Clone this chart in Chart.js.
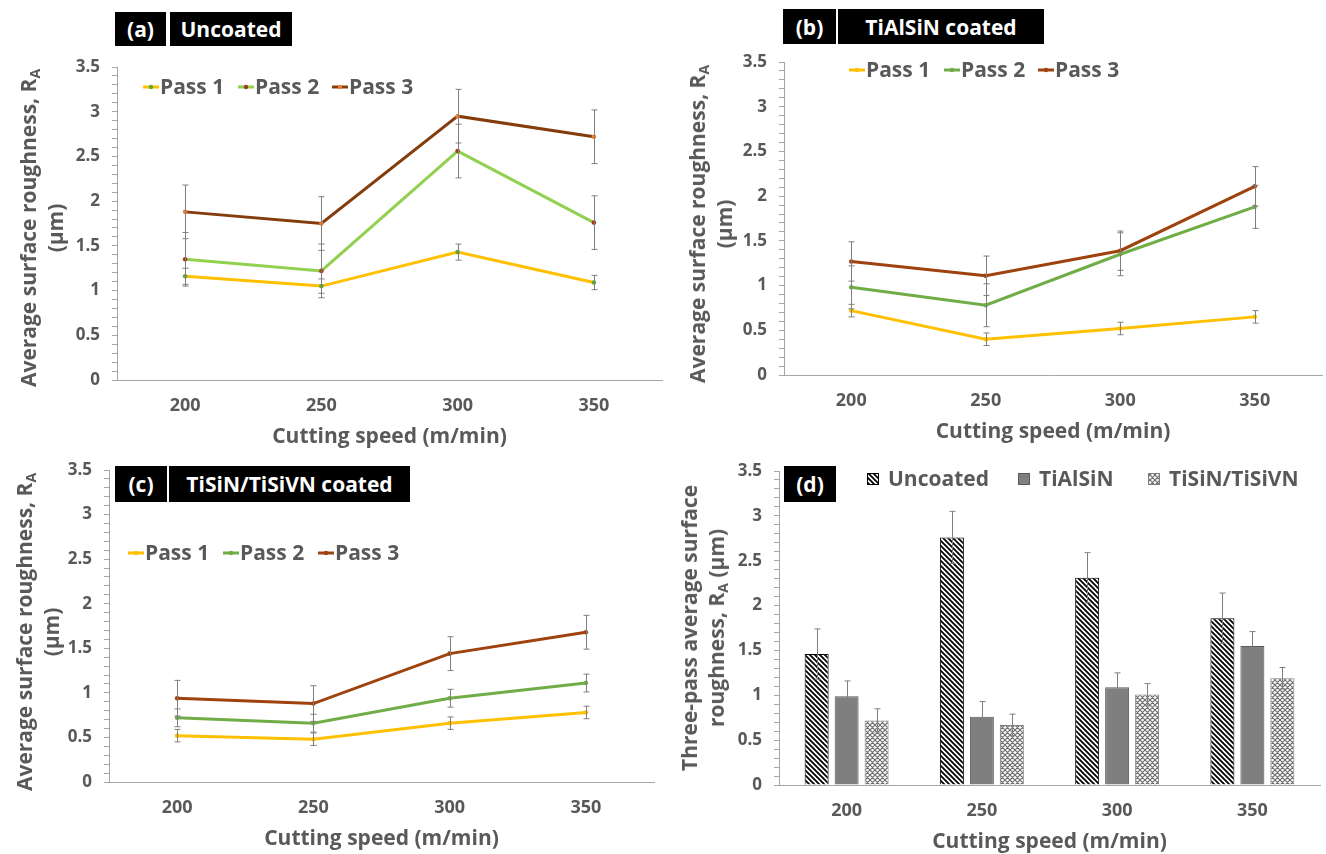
<!DOCTYPE html>
<html>
<head>
<meta charset="utf-8">
<script src="https://cdn.jsdelivr.net/npm/chart.js@4.4.0/dist/chart.umd.min.js"></script>
<style>
  body { margin: 0; background: #fff; width: 1326px; height: 854px; overflow: hidden; position: relative; font-family: 'Open Sans', sans-serif; }
  canvas { position: absolute; }
  .tag { position: absolute; background: #000; color: #fff; font-weight: bold; font-size: 21px; display: flex; align-items: center; justify-content: center; }
  .ytitle { position: absolute; color: #595959; font-weight: bold; font-size: 21px; line-height: 27px; text-align: center; white-space: nowrap; transform: translate(-50%, -50%) rotate(-90deg); }
  .ytitle sub { font-size: 14px; vertical-align: -4px; line-height: 0; }
</style>
</head>
<body>
<canvas id="chartA" width="670" height="450" style="left:0;top:0"></canvas>
<canvas id="chartB" width="666" height="445" style="left:660px;top:0"></canvas>
<canvas id="chartC" width="662" height="422" style="left:0;top:430px"></canvas>
<canvas id="chartD" width="666" height="425" style="left:660px;top:430px"></canvas>

<div class="tag" style="left:115px;top:12px;width:51px;height:34px">(a)</div>
<div class="tag" style="left:170px;top:12px;width:122px;height:34px">Uncoated</div>
<div class="tag" style="left:783px;top:9px;width:53px;height:35px">(b)</div>
<div class="tag" style="left:838px;top:9px;width:206px;height:35px">TiAlSiN coated</div>
<div class="tag" style="left:115px;top:466px;width:52px;height:36px">(c)</div>
<div class="tag" style="left:169px;top:466px;width:241px;height:36px">TiSiN/TiSiVN coated</div>
<div class="tag" style="left:784px;top:466px;width:52px;height:36px">(d)</div>

<div class="ytitle" style="left:42px;top:228px">Average surface roughness, R<sub>A</sub><br>(µm)</div>
<div class="ytitle" style="left:711px;top:224px">Average surface roughness, R<sub>A</sub><br>(µm)</div>
<div class="ytitle" style="left:38px;top:632px">Average surface roughness, R<sub>A</sub><br>(µm)</div>
<div class="ytitle" style="left:703px;top:628px">Three-pass average surface<br>roughness, R<sub>A</sub> (µm)</div>

<script>
// categorie (velocità di taglio)
const speeds = ['200', '250', '300', '350'];
const passLabels = ['Pass 1', 'Pass 2', 'Pass 3'];
const coatingLabels = ['Uncoated', 'TiAlSiN', 'TiSiN/TiSiVN'];

// (a) uncoated
const uncoatedPass1 = [1.16, 1.05, 1.43, 1.09];
const uncoatedPass1Err = [0.09, 0.08, 0.09, 0.08];
const uncoatedPass2 = [1.35, 1.22, 2.56, 1.76];
const uncoatedPass2Err = [0.30, 0.30, 0.30, 0.30];
const uncoatedPass3 = [1.88, 1.75, 2.95, 2.72];
const uncoatedPass3Err = [0.30, 0.30, 0.30, 0.30];

// (b) TiAlSiN
const tialsinPass1 = [0.72, 0.40, 0.52, 0.65];
const tialsinPass1Err = [0.07, 0.07, 0.07, 0.07];
const tialsinPass2 = [0.98, 0.78, 1.35, 1.88];
const tialsinPass2Err = [0.24, 0.24, 0.24, 0.24];
const tialsinPass3 = [1.27, 1.11, 1.39, 2.11];
const tialsinPass3Err = [0.22, 0.22, 0.22, 0.22];

// (c) TiSiN/TiSiVN
const tisinPass1 = [0.52, 0.48, 0.66, 0.78];
const tisinPass1Err = [0.07, 0.07, 0.07, 0.07];
const tisinPass2 = [0.72, 0.66, 0.94, 1.11];
const tisinPass2Err = [0.10, 0.10, 0.10, 0.10];
const tisinPass3 = [0.94, 0.88, 1.44, 1.68];
const tisinPass3Err = [0.20, 0.20, 0.19, 0.19];

// (d) media delle tre passate
const avgUncoated = [1.46, 2.76, 2.31, 1.86];
const avgUncoatedErr = [0.28, 0.29, 0.28, 0.28];
const avgTialsin = [0.99, 0.76, 1.09, 1.55];
const avgTialsinErr = [0.17, 0.17, 0.16, 0.16];
const avgTisin = [0.72, 0.67, 1.01, 1.19];
const avgTisinErr = [0.13, 0.12, 0.12, 0.12];

const GREY = '#595959';
const AXIS = '#a6a6a6';
Chart.defaults.font.family = "'Open Sans', sans-serif";
Chart.defaults.font.weight = 'bold';
Chart.defaults.color = GREY;

// barre d'errore
const errorBars = {
  id: 'errorBars',
  afterDatasetsDraw(chart) {
    const ctx = chart.ctx;
    const y = chart.scales.y;
    ctx.save();
    ctx.strokeStyle = '#7f7f7f';
    ctx.lineWidth = 1;
    chart.data.datasets.forEach((ds, i) => {
      if (!ds.errors) return;
      chart.getDatasetMeta(i).data.forEach((el, j) => {
        const x = Math.round(el.x) + 0.5;
        const top = y.getPixelForValue(ds.data[j] + ds.errors[j]);
        const bot = y.getPixelForValue(ds.data[j] - ds.errors[j]);
        ctx.beginPath();
        ctx.moveTo(x, top); ctx.lineTo(x, bot);
        ctx.moveTo(x - 3, top); ctx.lineTo(x + 3, top);
        ctx.moveTo(x - 3, bot); ctx.lineTo(x + 3, bot);
        ctx.stroke();
      });
    });
    ctx.restore();
  }
};

// legenda dentro l'area del grafico
const boxLegend = {
  id: 'boxLegend',
  afterDraw(chart, args, opts) {
    const ctx = chart.ctx;
    ctx.save();
    ctx.font = "bold 21px 'Open Sans'";
    ctx.textBaseline = 'middle';
    chart.data.datasets.forEach((ds, i) => {
      const x = opts.xs[i], y = opts.y;
      let tx;
      if (chart.config.type === 'bar') {
        ctx.fillStyle = ds.backgroundColor;
        ctx.fillRect(x, y - 6, 12, 12);
        ctx.strokeStyle = ds.borderColor;
        ctx.lineWidth = 1;
        ctx.strokeRect(x + 0.5, y - 5.5, 11, 11);
        tx = x + 21;
      } else {
        ctx.strokeStyle = ds.borderColor;
        ctx.lineWidth = 3;
        ctx.beginPath();
        ctx.moveTo(x, y); ctx.lineTo(x + 16, y);
        ctx.stroke();
        ctx.fillStyle = ds.pointBackgroundColor;
        ctx.beginPath();
        ctx.arc(x + 8, y, 2.2, 0, Math.PI * 2);
        ctx.fill();
        tx = x + 17;
      }
      ctx.fillStyle = GREY;
      ctx.fillText(ds.label, tx, y + 1);
    });
    ctx.restore();
  }
};

function makeScales(yWidth) {
  return {
    x: {
      offset: true,
      grid: { display: true, drawOnChartArea: false, drawTicks: false },
      border: { color: AXIS },
      ticks: { color: GREY, font: { size: 18, weight: 'bold' }, padding: 15 },
      title: { display: true, text: 'Cutting speed (m/min)', color: GREY, font: { size: 21, weight: 'bold' }, padding: 0 },
      afterFit: s => { s.height = 70; }
    },
    y: {
      min: 0, max: 3.5,
      ticks: {
        stepSize: 0.1, autoSkip: false, color: GREY, font: { size: 17, weight: 'bold' }, padding: 12,
        callback: v => (Math.round(v * 10) % 5 === 0 ? String(v) : '')
      },
      grid: { drawOnChartArea: false, tickLength: 5, color: AXIS },
      border: { color: AXIS },
      afterFit: s => { s.width = yWidth; }
    }
  };
}

function passSet(label, data, errors, color, pointColor) {
  return {
    label: label, data: data, errors: errors,
    borderColor: color, backgroundColor: color, borderWidth: 3,
    pointRadius: 2.3, pointBorderWidth: 0, pointBackgroundColor: pointColor,
    tension: 0
  };
}

function lineChart(id, sets, geo) {
  return new Chart(document.getElementById(id), {
    type: 'line',
    data: { labels: speeds, datasets: sets },
    options: {
      responsive: false, animation: false,
      layout: { padding: { top: geo.top, left: 0, right: geo.right, bottom: 0 } },
      plugins: { legend: { display: false }, tooltip: { enabled: false }, boxLegend: { xs: geo.legendX, y: geo.legendY } },
      scales: makeScales(geo.yWidth)
    },
    plugins: [errorBars, boxLegend]
  });
}

lineChart('chartA', [
  passSet(passLabels[0], uncoatedPass1, uncoatedPass1Err, '#ffc000', '#5fa832'),
  passSet(passLabels[1], uncoatedPass2, uncoatedPass2Err, '#92d050', '#a33a12'),
  passSet(passLabels[2], uncoatedPass3, uncoatedPass3Err, '#843c0c', '#f07c30')
], { top: 67, right: 8, yWidth: 117, legendX: [143, 238, 332], legendY: 87 });

lineChart('chartB', [
  passSet(passLabels[0], tialsinPass1, tialsinPass1Err, '#ffc000', '#ffc000'),
  passSet(passLabels[1], tialsinPass2, tialsinPass2Err, '#70ad47', '#70ad47'),
  passSet(passLabels[2], tialsinPass3, tialsinPass3Err, '#9e420e', '#9e420e')
], { top: 62, right: 1, yWidth: 124, legendX: [189, 284, 378], legendY: 70 });

lineChart('chartC', [
  passSet(passLabels[0], tisinPass1, tisinPass1Err, '#ffc000', '#ffc000'),
  passSet(passLabels[1], tisinPass2, tisinPass2Err, '#70ad47', '#70ad47'),
  passSet(passLabels[2], tisinPass3, tisinPass3Err, '#9e420e', '#9e420e')
], { top: 40, right: 8, yWidth: 109, legendX: [128, 223, 318], legendY: 123 });

// motivi di riempimento per le barre
function hatch(size, draw) {
  const c = document.createElement('canvas');
  c.width = size; c.height = size;
  const g = c.getContext('2d');
  g.fillStyle = '#fff';
  g.fillRect(0, 0, size, size);
  draw(g, size);
  return g.createPattern(c, 'repeat');
}
const stripes = hatch(5, (g, s) => {
  g.strokeStyle = '#000'; g.lineWidth = 1.8;
  g.beginPath();
  for (let k = -1; k <= 1; k++) { g.moveTo(k * s - 2, -2); g.lineTo(k * s + s + 2, s + 2); }
  g.stroke();
});
const cross = hatch(5, (g, s) => {
  g.strokeStyle = '#6e6e6e'; g.lineWidth = 1.2;
  g.beginPath();
  for (let k = -1; k <= 1; k++) {
    g.moveTo(k * s - 2, -2); g.lineTo(k * s + s + 2, s + 2);
    g.moveTo(k * s + s + 2, -2); g.lineTo(k * s - 2, s + 2);
  }
  g.stroke();
});

new Chart(document.getElementById('chartD'), {
  type: 'bar',
  data: {
    labels: speeds,
    datasets: [
      { label: coatingLabels[0], data: avgUncoated, errors: avgUncoatedErr, backgroundColor: stripes, borderColor: '#000', borderWidth: 1 },
      { label: coatingLabels[1], data: avgTialsin, errors: avgTialsinErr, backgroundColor: '#7f7f7f', borderColor: '#595959', borderWidth: 1 },
      { label: coatingLabels[2], data: avgTisin, errors: avgTisinErr, backgroundColor: cross, borderColor: '#7f7f7f', borderWidth: 1 }
    ]
  },
  options: {
    responsive: false, animation: false,
    categoryPercentage: 0.665, barPercentage: 0.8,
    layout: { padding: { top: 41, left: 0, right: 6, bottom: 0 } },
    plugins: { legend: { display: false }, tooltip: { enabled: false }, boxLegend: { xs: [207, 358, 488], y: 49 } },
    scales: makeScales(119)
  },
  plugins: [errorBars, boxLegend]
});
</script>
</body>
</html>
